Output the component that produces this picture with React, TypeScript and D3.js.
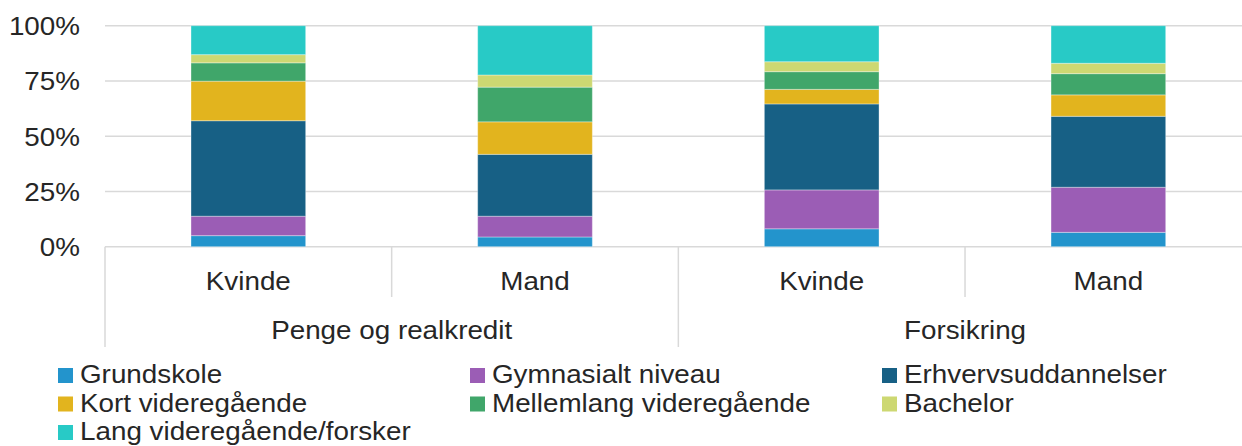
import * as d3 from "d3";
import React from "react";

// categories
const groups = ["Penge og realkredit", "Forsikring"];
const genders = ["Kvinde", "Mand"];

// series (education levels), bottom to top
const series = [
  "Grundskole",
  "Gymnasialt niveau",
  "Erhvervsuddannelser",
  "Kort videregående",
  "Mellemlang videregående",
  "Bachelor",
  "Lang videregående/forsker",
];
const colors = ["#2394cc", "#9b5db5", "#176085", "#e2b41e", "#40a66a", "#cdd872", "#28cac6"];

// shares in % per bar: Penge Kvinde, Penge Mand, Forsikring Kvinde, Forsikring Mand
const grundskole = [5.0, 4.4, 8.1, 6.5];
const gymnasialt = [8.8, 9.4, 17.6, 20.4];
const erhverv = [43.2, 28.0, 38.9, 32.1];
const kort = [17.9, 14.7, 6.6, 9.7];
const mellemlang = [8.3, 15.7, 8.0, 9.6];
const bachelor = [3.7, 5.5, 4.5, 4.7];
const lang = [13.1, 22.3, 16.3, 17.0];

const yTicks = [0, 0.25, 0.5, 0.75, 1];

const W = 1242;
const H = 446;
const FONT = "'Liberation Sans', Arial, sans-serif";
const GRID = "#d9d9d9";

// text in the reference is a little wider than Arial
const Txt = ({ x, y, anchor = "start", size = 26, children }: any) => (
  <text
    transform={`translate(${x},${y}) scale(1.07,1)`}
    textAnchor={anchor}
    fontSize={size}
    fontFamily={FONT}
    fill="#262626"
  >
    {children}
  </text>
);

export default function App() {
  const seriesValues = [grundskole, gymnasialt, erhverv, kort, mellemlang, bachelor, lang];
  const bars = groups.flatMap((g) => genders.map((s) => `${g}|${s}`));
  const rows = bars.map((key, i) => {
    const row: any = { key };
    series.forEach((s, j) => (row[s] = seriesValues[j][i] / 100));
    return row;
  });
  const stacked = d3.stack<any>().keys(series)(rows);

  const left = 105;
  const right = 1251.7;
  const x = d3.scaleBand().domain(bars).range([left, right]).paddingInner(0.6).paddingOuter(0.3);
  const xGroup = d3.scaleBand().domain(groups).range([left, right]);
  const y = d3.scaleLinear().domain([0, 1]).range([246.7, 25.7]);
  const step = x.step();
  const base = y(0);

  const legendCols = [58, 470, 882];
  const legendRows = [368, 396.5, 425];

  return (
    <svg
      width={W}
      height={H}
      style={{ position: "absolute", left: 0, top: 0, background: "#fff" }}
    >
      {/* gridlines */}
      {yTicks.map((t) => (
        <line key={t} x1={left} x2={W} y1={y(t)} y2={y(t)} stroke={GRID} strokeWidth={1.5} />
      ))}
      {yTicks.map((t) => (
        <Txt key={t} x={80} y={y(t) + 9.3} anchor="end">
          {d3.format(".0%")(t)}
        </Txt>
      ))}

      {/* stacked bars */}
      {stacked.map((layer, j) =>
        layer.map((d: any) => (
          <rect
            key={`${j}-${d.data.key}`}
            x={x(d.data.key)}
            width={x.bandwidth()}
            y={y(d[1])}
            height={y(d[0]) - y(d[1])}
            fill={colors[j]}
            stroke="#ffffff"
            strokeOpacity={0.35}
            strokeWidth={1}
          />
        ))
      )}

      {/* category dividers */}
      {d3.range(bars.length + 1).map((i) => (
        <line
          key={i}
          x1={left + i * step}
          x2={left + i * step}
          y1={base}
          y2={i % 2 === 0 ? 347 : 297}
          stroke={GRID}
          strokeWidth={1.5}
        />
      ))}

      {bars.map((b) => (
        <Txt key={b} x={x(b)! + x.bandwidth() / 2} y={290} anchor="middle">
          {b.split("|")[1]}
        </Txt>
      ))}
      {groups.map((g) => (
        <Txt key={g} x={xGroup(g)! + xGroup.bandwidth() / 2} y={338.5} anchor="middle">
          {g}
        </Txt>
      ))}

      {/* legend */}
      {series.map((s, i) => {
        const lx = legendCols[i % 3];
        const ly = legendRows[Math.floor(i / 3)];
        return (
          <g key={s}>
            <rect x={lx} y={ly} width={15} height={15} fill={colors[i]} />
            <Txt x={lx + 22} y={ly + 15}>
              {s}
            </Txt>
          </g>
        );
      })}
    </svg>
  );
}
